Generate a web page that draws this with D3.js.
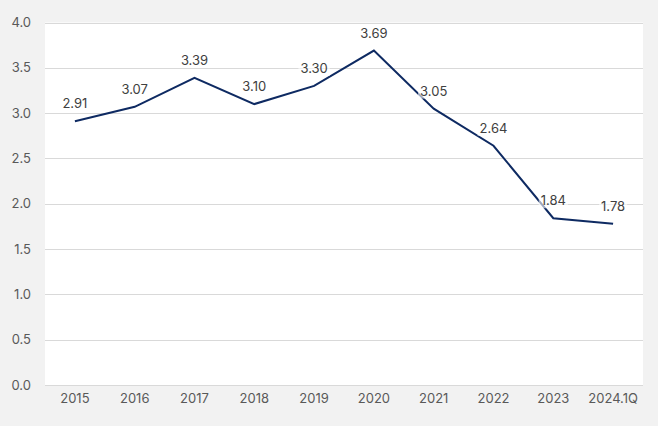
<!DOCTYPE html>
<html><head><meta charset="utf-8">
<script src="https://cdn.jsdelivr.net/npm/d3@7"></script>
<style>html,body{margin:0;padding:0;background:#f2f2f2;}svg{display:block;font-family:Inter,"Noto Sans",sans-serif;}</style>
</head><body><svg id="c" width="658" height="426"></svg>
<script>
const categories = ["2015","2016","2017","2018","2019","2020","2021","2022","2023","2024.1Q"];
const values = [2.91,3.07,3.39,3.10,3.30,3.69,3.05,2.64,1.84,1.78];
const yTicks = [0,0.5,1.0,1.5,2.0,2.5,3.0,3.5,4.0];

const svg = d3.select("#c");
const m = {left:45, right:15, top:22.5, bottom:41};
const W = 658, H = 426;
const x = d3.scaleBand().domain(categories).range([m.left, W - m.right]);
const y = d3.scaleLinear().domain([0,4]).range([H - m.bottom, m.top]);

svg.append("rect").attr("width",W).attr("height",H).attr("fill","#f2f2f2");
svg.append("rect").attr("x",m.left).attr("y",m.top).attr("width",W-m.right-m.left).attr("height",H-m.bottom-m.top).attr("fill","#ffffff");

// grid
svg.append("g").selectAll("line").data(yTicks).join("line")
  .attr("x1",m.left).attr("x2",W-m.right)
  .attr("y1",d=>Math.round(y(d))+0.5).attr("y2",d=>Math.round(y(d))+0.5)
  .attr("stroke","#d9d9d9").attr("stroke-width",1);

// y axis labels
const ya = svg.append("g").attr("transform",`translate(${m.left-14},0)`)
  .call(d3.axisLeft(y).tickValues(yTicks).tickFormat(d3.format(".1f")).tickSize(0).tickPadding(0));
ya.select(".domain").remove();
ya.selectAll("text").attr("fill","#595959").style("font-size","13px").style("font-family","Inter,'Noto Sans',sans-serif");

// x axis labels
const xa = svg.append("g").attr("transform",`translate(0,${H-m.bottom+9})`)
  .call(d3.axisBottom(x).tickSize(0).tickPadding(0));
xa.select(".domain").remove();
xa.selectAll("text").attr("fill","#595959").style("font-size","13px").style("font-family","Inter,'Noto Sans',sans-serif");

const cx = d => x(d) + x.bandwidth()/2;
const line = d3.line().x((d,i)=>cx(categories[i])).y(d=>y(d));
svg.append("path").datum(values).attr("d",line).attr("fill","none")
  .attr("stroke","#0e2a62").attr("stroke-width",2).attr("stroke-linejoin","miter");

// data labels
const lg = svg.append("g");
values.forEach((v,i)=>{
  const px = cx(categories[i]), py = y(v) - 13;
  const t = lg.append("text").attr("x",px).attr("y",py).attr("text-anchor","middle")
    .attr("fill","#404040").style("font-size","13px").text(v.toFixed(2));
  const b = t.node().getBBox();
  lg.insert("rect","text").attr("x",b.x-2).attr("y",b.y).attr("width",b.width+4).attr("height",b.height)
    .attr("fill","#ffffff").attr("opacity",0.6);
});
</script></body></html>
